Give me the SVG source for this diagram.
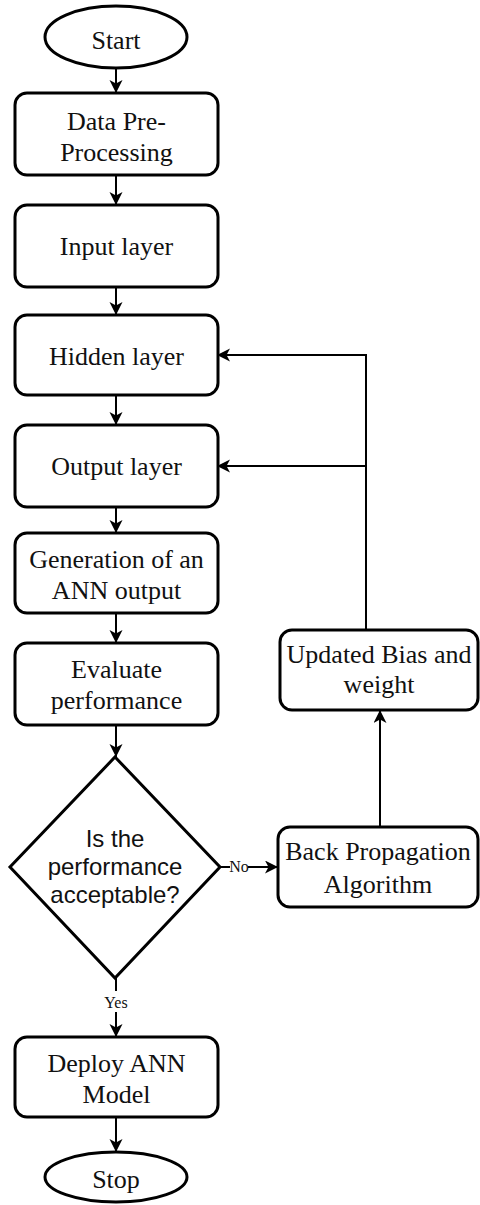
<svg xmlns="http://www.w3.org/2000/svg" width="480" height="1205" viewBox="0 0 480 1205">
<style>
.n{fill:#fff;stroke:#000;stroke-width:3}
.t{font-family:"Liberation Serif","Times New Roman",serif;font-size:26px;fill:#111;text-anchor:middle}
.s{font-family:"Liberation Sans",Arial,sans-serif;font-size:24px;fill:#111;text-anchor:middle}
.l{font-family:"Liberation Serif","Times New Roman",serif;font-size:16px;fill:#111;text-anchor:middle}
.c{fill:none;stroke:#000;stroke-width:2}
</style>
<defs>
<marker id="a" markerUnits="userSpaceOnUse" markerWidth="14" markerHeight="14" refX="13" refY="6.5" orient="auto">
<path d="M0,0 L13,6.5 L0,13 L3.5,6.5 Z" fill="#000"/>
</marker>
</defs>
<rect width="480" height="1205" fill="#fff"/>
<g id="connectors">
<line class="c" x1="116" y1="68" x2="116" y2="93" marker-end="url(#a)"/>
<line class="c" x1="116" y1="175" x2="116" y2="205" marker-end="url(#a)"/>
<line class="c" x1="116" y1="287" x2="116" y2="315" marker-end="url(#a)"/>
<line class="c" x1="116" y1="395" x2="116" y2="425" marker-end="url(#a)"/>
<line class="c" x1="116" y1="507" x2="116" y2="533" marker-end="url(#a)"/>
<line class="c" x1="116" y1="613" x2="116" y2="643" marker-end="url(#a)"/>
<line class="c" x1="116" y1="725" x2="116" y2="757" marker-end="url(#a)"/>
<line class="c" x1="116" y1="978" x2="116" y2="991"/>
<text class="l" x="116" y="1008">Yes</text>
<line class="c" x1="116" y1="1012" x2="116" y2="1037" marker-end="url(#a)"/>
<line class="c" x1="116" y1="1117" x2="116" y2="1152" marker-end="url(#a)"/>
<line class="c" x1="220" y1="867" x2="230" y2="867"/>
<text class="l" x="239" y="872">No</text>
<line class="c" x1="248" y1="867" x2="278" y2="867" marker-end="url(#a)"/>
<line class="c" x1="380" y1="827" x2="380" y2="710" marker-end="url(#a)"/>
<polyline class="c" points="366,630 366,355 217,355" marker-end="url(#a)"/>
<line class="c" x1="366" y1="466" x2="217" y2="466" marker-end="url(#a)"/>
</g>
<g id="start">
<ellipse class="n" cx="116" cy="37" rx="71" ry="31"/>
<text class="t" x="116" y="49">Start</text>
</g>
<g id="preprocess">
<rect class="n" x="15" y="93" width="203" height="82" rx="12"/>
<text class="t" x="116.5" y="130">Data Pre-</text>
<text class="t" x="116.5" y="161">Processing</text>
</g>
<g id="input">
<rect class="n" x="15" y="205" width="203" height="82" rx="12"/>
<text class="t" x="116.5" y="255">Input layer</text>
</g>
<g id="hidden">
<rect class="n" x="15" y="315" width="203" height="80" rx="12"/>
<text class="t" x="116.5" y="365">Hidden layer</text>
</g>
<g id="output">
<rect class="n" x="15" y="425" width="203" height="82" rx="12"/>
<text class="t" x="116.5" y="475">Output layer</text>
</g>
<g id="generation">
<rect class="n" x="15" y="533" width="203" height="80" rx="12"/>
<text class="t" x="116.5" y="568">Generation of an</text>
<text class="t" x="116.5" y="599">ANN output</text>
</g>
<g id="evaluate">
<rect class="n" x="15" y="643" width="203" height="82" rx="12"/>
<text class="t" x="116.5" y="678">Evaluate</text>
<text class="t" x="116.5" y="709">performance</text>
</g>
<g id="decision">
<polygon class="n" points="115,757 220,867 115,978 10,867"/>
<text class="s" x="115" y="847">Is the</text>
<text class="s" x="115" y="875">performance</text>
<text class="s" x="115" y="903">acceptable?</text>
</g>
<g id="deploy">
<rect class="n" x="15" y="1037" width="203" height="80" rx="12"/>
<text class="t" x="116.5" y="1072">Deploy ANN</text>
<text class="t" x="116.5" y="1103">Model</text>
</g>
<g id="stop">
<ellipse class="n" cx="116" cy="1177" rx="71" ry="25"/>
<text class="t" x="116" y="1188">Stop</text>
</g>
<g id="backprop">
<rect class="n" x="278" y="827" width="200" height="80" rx="12"/>
<text class="t" x="378" y="860">Back Propagation</text>
<text class="t" x="378" y="893">Algorithm</text>
</g>
<g id="updated">
<rect class="n" x="280" y="630" width="198" height="80" rx="12"/>
<text class="t" x="379" y="663">Updated Bias and</text>
<text class="t" x="379" y="693">weight</text>
</g>
</svg>
